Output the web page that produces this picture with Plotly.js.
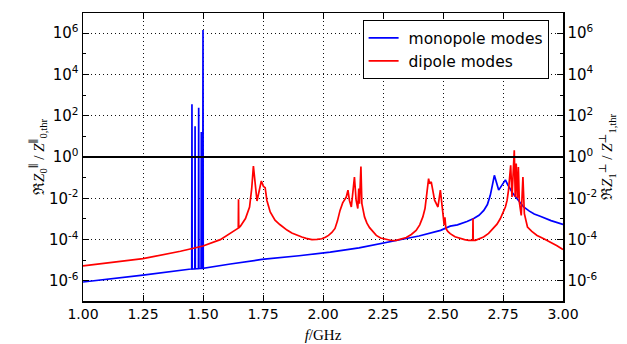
<!DOCTYPE html>
<html>
<head>
<meta charset="utf-8">
<script src="https://cdn.plot.ly/plotly-3.0.1.min.js"></script>
<style>html,body{margin:0;padding:0;background:#fff;}#chart{width:627px;height:344px;}</style>
</head>
<body>
<div id="chart"></div>
<script>
// monopole modes (f in GHz, Re Z0 / Z0,thr)
const monoF = [1.00, 1.25, 1.45,
  1.453, 1.454, 1.455,
  1.466, 1.467, 1.468,
  1.481, 1.482, 1.483,
  1.492, 1.493, 1.494,
  1.499, 1.500, 1.501,
  1.614, 1.745, 1.90, 2.03, 2.15, 2.25, 2.31, 2.40, 2.49, 2.53, 2.56, 2.60, 2.628, 2.65, 2.67, 2.685, 2.697, 2.706, 2.714,
  2.732, 2.76, 2.77, 2.778, 2.79, 2.808, 2.82, 2.836, 2.86, 2.88, 2.905, 2.95, 3.00];
const monoV = [8.9e-7, 1.9e-6, 3.8e-6,
  3.8e-6, 355, 3.8e-6,
  3.9e-6, 31, 3.9e-6,
  4.0e-6, 245, 4.0e-6,
  4.1e-6, 16, 4.1e-6,
  4.1e-6, 1.4e6, 4.1e-6,
  6.6e-6, 1.1e-5, 1.66e-5, 2.5e-5, 4.0e-5, 6.5e-5, 9.3e-5, 1.5e-4, 2.8e-4, 4.5e-4, 5.2e-4, 7.6e-4, 1.05e-3, 1.5e-3, 2.6e-3, 5.0e-3, 1.4e-2, 4.5e-2, 0.13,
  0.025, 0.078, 0.045, 0.03, 0.018, 9.8e-3, 6.3e-3, 3.8e-3, 2.4e-3, 1.74e-3, 1.35e-3, 8.3e-4, 5.4e-4];

// dipole modes (f in GHz, Re Z1 / Z1,thr)
const dipF = [1.00, 1.25, 1.406, 1.50, 1.572, 1.614, 1.635,
  1.647, 1.648, 1.649, 1.656, 1.677, 1.694, 1.703, 1.71, 1.725, 1.743, 1.752, 1.759, 1.766, 1.78,
  1.80, 1.82, 1.835, 1.85, 1.87, 1.89, 1.912, 1.93, 1.954, 1.975, 1.995, 2.01, 2.023, 2.037, 2.05, 2.06,
  2.071, 2.082, 2.09, 2.097, 2.104, 2.11, 2.118, 2.131, 2.138, 2.145, 2.149, 2.152, 2.158, 2.162, 2.173,
  2.183, 2.194, 2.207, 2.222, 2.24, 2.263, 2.285, 2.305, 2.327, 2.347, 2.368, 2.388, 2.403, 2.416, 2.425,
  2.43, 2.44, 2.444, 2.451, 2.465, 2.479, 2.489,
  2.50, 2.505, 2.508, 2.512, 2.52, 2.53, 2.55, 2.572, 2.59, 2.607, 2.624, 2.625, 2.626, 2.635, 2.65, 2.669, 2.69,
  2.711, 2.725, 2.739, 2.75, 2.76, 2.767,
  2.773, 2.782, 2.7875, 2.797, 2.801, 2.805, 2.81, 2.814, 2.818, 2.826, 2.833, 2.839,
  2.852, 2.87, 2.892, 2.92, 2.947, 2.975, 3.00];
const dipV = [5.4e-6, 1.2e-5, 2.75e-5, 4.9e-5, 1.0e-4, 1.95e-4, 2.8e-4,
  3.6e-4, 8.9e-3, 3.7e-4, 4.5e-4, 1.05e-3, 3.8e-3, 0.03, 0.36, 7.4e-3, 0.069, 0.038, 0.033, 8.1e-3, 2.2e-3,
  8.7e-4, 5.4e-4, 3.8e-4, 2.9e-4, 2.1e-4, 1.66e-4, 1.35e-4, 1.15e-4, 1.0e-4, 1.02e-4, 1.1e-4, 1.32e-4, 1.6e-4, 2.24e-4, 3.5e-4, 7.9e-4,
  2.6e-3, 6.0e-3, 8.1e-3, 0.0115, 0.025, 8.1e-3, 3.8e-3, 0.107, 8.1e-3, 3.2e-3, 0.03, 5.5e-3, 0.35, 5.5e-3, 1.26e-3,
  6.3e-4, 3.8e-4, 2.4e-4, 1.6e-4, 1.2e-4, 1.0e-4, 9.1e-5, 9.3e-5, 1.05e-4, 1.26e-4, 1.78e-4, 2.8e-4, 5.2e-4, 1.26e-3, 3.2e-3,
  8.1e-3, 0.089, 0.051, 0.062, 8.1e-3, 3.8e-3, 0.025,
  2.5e-3, 5.0e-4, 1.2e-3, 3.5e-4, 2.5e-4, 1.95e-4, 1.38e-4, 1.1e-4, 1.0e-4, 9.3e-5, 9.3e-5, 1.05e-3, 9.3e-5, 9.3e-5, 1.07e-4, 1.35e-4, 2.0e-4,
  3.5e-4, 5.6e-4, 1.05e-3, 1.9e-3, 3.8e-3, 7.9e-3,
  0.025, 0.4, 0.0115, 2.1, 0.0115, 0.48, 0.01, 0.33, 6.6e-3, 1.5e-3, 0.107, 1.8e-3,
  4.1e-4, 2.5e-4, 1.6e-4, 1.1e-4, 7.8e-5, 5.0e-5, 3.3e-5];

// threshold line
const thrF = [1.0, 3.0];
const thrV = [1, 1];

// tick labels
const yTickVals = [1e-6, 1e-4, 1e-2, 1e0, 1e2, 1e4, 1e6];
const yTickText = ['10<sup>-6</sup>', '10<sup>-4</sup>', '10<sup>-2</sup>', '10<sup>0</sup>', '10<sup>2</sup>', '10<sup>4</sup>', '10<sup>6</sup>'];
const yMinorVals = [1e-7, 1e-5, 1e-3, 1e-1, 1e1, 1e3, 1e5, 1e7];
const xTickVals = [1.00, 1.25, 1.50, 1.75, 2.00, 2.25, 2.50, 2.75, 3.00];
const xTickText = ['1.00', '1.25', '1.50', '1.75', '2.00', '2.25', '2.50', '2.75', '3.00'];

const tickFont = {family: 'DejaVu Sans, sans-serif', size: 15, color: '#000'};
const titleFont = {family: 'Liberation Serif, DejaVu Serif, serif', size: 15, color: '#000'};
const gridDash = '1px,3px';

const traces = [
  {x: monoF, y: monoV, type: 'scatter', mode: 'lines', name: ' monopole modes',
   line: {color: '#0000ff', width: 1.7}},
  {x: dipF, y: dipV, type: 'scatter', mode: 'lines', name: ' dipole modes',
   line: {color: '#ff0000', width: 1.7}},
  {x: thrF, y: thrV, type: 'scatter', mode: 'lines', showlegend: false,
   line: {color: '#000000', width: 2}, hoverinfo: 'skip'},
  {x: thrF, y: thrV, type: 'scatter', mode: 'lines', showlegend: false, yaxis: 'y2',
   line: {color: 'rgba(0,0,0,0)', width: 0}, hoverinfo: 'skip'}
];

const yCommon = {
  type: 'log', range: [-6.97, 6.97], tickmode: 'array', tickvals: yTickVals, ticktext: yTickText,
  ticks: 'inside', ticklen: 6, tickwidth: 1, tickcolor: '#000',
  showline: true, linecolor: '#000', linewidth: 1.5,
  tickfont: tickFont, zeroline: false,
  minor: {tickmode: 'array', tickvals: yMinorVals, ticks: 'inside', ticklen: 3, tickcolor: '#000', showgrid: false}
};

const layout = {
  width: 627, height: 344,
  margin: {l: 83, r: 64, t: 13, b: 43, pad: 0},
  paper_bgcolor: '#fff', plot_bgcolor: '#fff',
  showlegend: true,
  legend: {x: 0.5825, y: 0.975, xanchor: 'left', yanchor: 'top',
    bgcolor: '#fff', bordercolor: '#000', borderwidth: 1,
    font: {family: 'DejaVu Sans, sans-serif', size: 15.5, color: '#000'},
    tracegroupgap: 0, itemwidth: 30},
  xaxis: {
    range: [1, 3], tickmode: 'array', tickvals: xTickVals, ticktext: xTickText,
    ticks: 'inside', ticklen: 6, tickcolor: '#000', mirror: 'ticks',
    showline: true, linecolor: '#000', linewidth: 1.5,
    showgrid: true, gridcolor: '#111', griddash: gridDash, gridwidth: 1,
    tickfont: {family: 'DejaVu Sans, sans-serif', size: 14, color: '#000'},
    zeroline: false,
    title: {text: '<i>f</i>/GHz', font: titleFont, standoff: 8}
  },
  yaxis: Object.assign({}, yCommon, {
    showgrid: true, gridcolor: '#111', griddash: gridDash, gridwidth: 1,
    title: {text: 'ℜ<i>Z</i><sub>0</sub><sup>∥</sup> / <i>Z</i><sup>∥</sup><sub>0,thr</sub>', font: titleFont, standoff: 0}
  }),
  yaxis2: Object.assign({}, yCommon, {
    overlaying: 'y', side: 'right', showgrid: false,
    title: {text: 'ℜ<i>Z</i><sub>1</sub><sup>⊥</sup> / <i>Z</i><sup>⊥</sup><sub>1,thr</sub>', font: titleFont, standoff: 2}
  })
};

Plotly.newPlot('chart', traces, layout, {staticPlot: true, displayModeBar: false});
</script>
</body>
</html>
